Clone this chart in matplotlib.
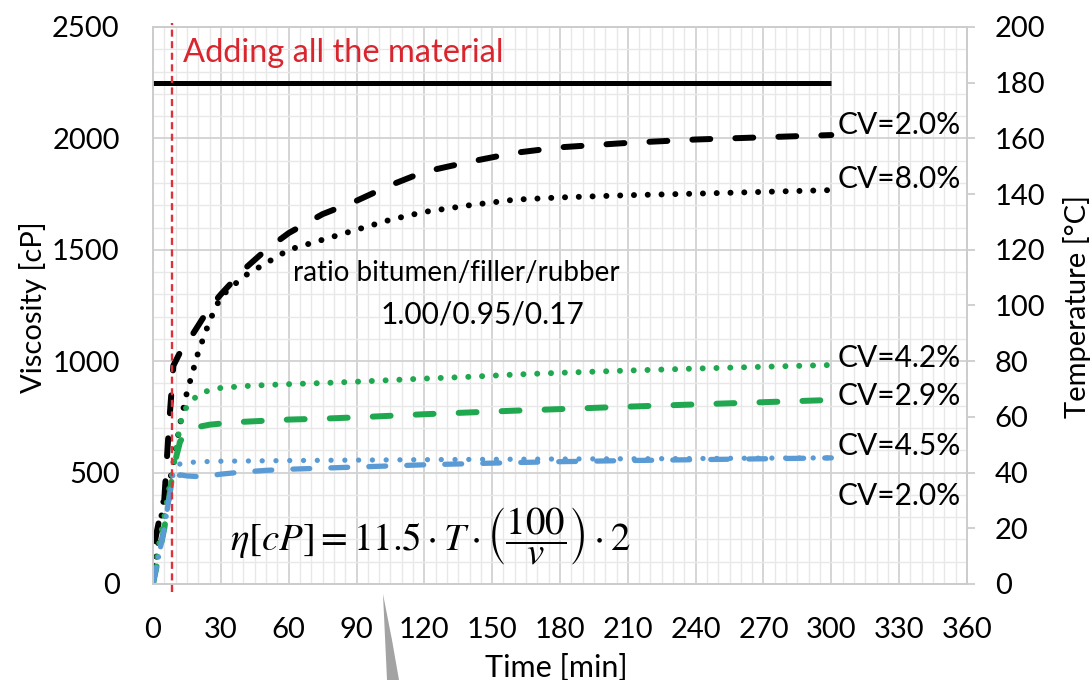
import numpy as np
import matplotlib
matplotlib.use("Agg")
from matplotlib import pyplot as plt
from matplotlib.patches import Polygon
from matplotlib.ticker import MultipleLocator

plt.rcParams['font.family'] = ['Lato', 'DejaVu Sans']
plt.rcParams['mathtext.fontset'] = 'stix'

# time [min] shared by all viscosity curves
time = [0, 1, 3, 5, 7, 9, 12, 15, 20, 25, 30, 40, 50, 60, 75, 90, 105, 120,
        140, 160, 180, 210, 240, 270, 300]

# viscosity [cP]
black_dash = [0, 200, 300, 380, 700, 980, 1040, 1080, 1160, 1240, 1300, 1410, 1500, 1575,
              1660, 1720, 1790, 1850, 1895, 1935, 1960, 1980, 1995, 2005, 2015]
black_dot = [0, 80, 250, 400, 440, 540, 720, 860, 1040, 1180, 1290, 1380, 1440, 1500,
             1545, 1590, 1635, 1670, 1700, 1725, 1735, 1745, 1752, 1760, 1768]
green_dot = [0, 60, 200, 300, 420, 520, 720, 800, 850, 870, 880, 888, 893, 897,
             902, 908, 915, 922, 930, 940, 948, 958, 967, 975, 983]
green_dash = [0, 50, 150, 250, 380, 520, 640, 680, 705, 715, 720, 728, 733, 738,
              742, 748, 755, 762, 770, 778, 785, 796, 806, 816, 826]
blue_dot = [0, 50, 150, 250, 380, 500, 540, 545, 548, 550, 551, 552, 553, 554,
            555, 556, 557, 558, 559, 560, 561, 562, 563, 565, 566]
blue_dash = [0, 50, 150, 250, 380, 470, 490, 485, 482, 486, 493, 503, 510, 515,
             520, 525, 530, 535, 540, 545, 549, 554, 558, 562, 566]

cv_labels = ['CV=2.0%', 'CV=8.0%', 'CV=4.2%', 'CV=2.9%', 'CV=4.5%', 'CV=2.0%']
cv_label_y = [2020, 1777, 974, 803, 579, 355]

temp_time = [0, 300]
temperature = [180, 180]
add_time = 8.4

fig = plt.figure(figsize=(10.91, 6.80), dpi=100)
ax = fig.add_axes([0.14024, 0.14118, 0.7461, 0.81912])
ax2 = ax.twinx()

ax.set_xlim(0, 360)
ax.set_ylim(0, 2500)
ax2.set_ylim(0, 200)
ax.xaxis.set_major_locator(MultipleLocator(30))
ax.xaxis.set_minor_locator(MultipleLocator(5))
ax.yaxis.set_major_locator(MultipleLocator(500))
ax.yaxis.set_minor_locator(MultipleLocator(100))
ax2.yaxis.set_major_locator(MultipleLocator(20))

ax.grid(which='major', color='#d2d2d2', lw=1.3)
ax.grid(which='minor', color='#e8e8e8', lw=1.0)
ax.set_axisbelow(True)

for a in (ax, ax2):
    for s in a.spines.values():
        s.set_color('#cccccc')
        s.set_linewidth(1.2)

ax.tick_params(axis='both', which='both', length=0, labelsize=21, pad=24)
ax2.tick_params(axis='y', which='major', length=6, color='#c8c8c8', width=1.2,
                labelsize=21, pad=14)
ax2.tick_params(axis='y', which='minor', length=0)

lw = 4.3
dot = (0, (0.01, 2.3))
dash = (0, (3.0, 4.2))
ax.plot(time, black_dash, color='black', lw=lw, ls=dash, dash_capstyle='round')
ax.plot(time, black_dot, color='black', lw=lw, ls=dot, dash_capstyle='round')
ax.plot(time, green_dot, color='#1fa84f', lw=lw, ls=dot, dash_capstyle='round')
ax.plot(time, green_dash, color='#1fa84f', lw=lw, ls=dash, dash_capstyle='round')
ax.plot(time, blue_dot, color='#5b9bd5', lw=3.8, ls=(0, (0.01, 2.6)), dash_capstyle='round')
ax.plot(time, blue_dash, color='#5b9bd5', lw=3.8, ls=(0, (3.2, 4.0)), dash_capstyle='round')

ax2.plot(temp_time, temperature, color='black', lw=3.6, solid_capstyle='butt')

# vertical marker for the moment all material is added
ax2.plot([add_time, add_time], [-3, 201.5], color='#e03038', lw=1.7,
         ls=(0, (3, 1.9)), clip_on=False, zorder=10)

ax.text(13.3, 2343, 'Adding all the material', color='#d9262e', fontsize=23.5)
ax.text(134, 1360, 'ratio bitumen/filler/rubber', ha='center', fontsize=20)
ax.text(145.5, 1171, '1.00/0.95/0.17', ha='center', fontsize=21.5)
for lab, yv in zip(cv_labels, cv_label_y):
    ax.text(303, yv, lab, fontsize=21.5, clip_on=False)

ax.text(34, 215, r'$\eta[cP] = 11.5\cdot T\cdot\left(\dfrac{100}{v}\right)\cdot 2$',
        fontsize=28, va='center', ha='left')

fig.text(33 / 1091, 1 - 307 / 680, 'Viscosity [cP]', rotation=90, fontsize=21,
         ha='center', va='center')
fig.text(1077 / 1091, 1 - 307 / 680, 'Temperature [°C]', rotation=90, fontsize=21,
         ha='center', va='center')
fig.text(556 / 1091, 1 - 677 / 680, 'Time [min]', fontsize=22, ha='center', va='baseline')

# grey callout tail at the bottom
tail = Polygon([(383 / 1091, 1 - 594 / 680), (392 / 1091, 1 - 640 / 680),
                (399 / 1091, 0), (387 / 1091, 0)], closed=True,
               transform=fig.transFigure, color='#a3a3a3', lw=0)
fig.patches.append(tail)

fig.savefig('out.png', dpi=100)
